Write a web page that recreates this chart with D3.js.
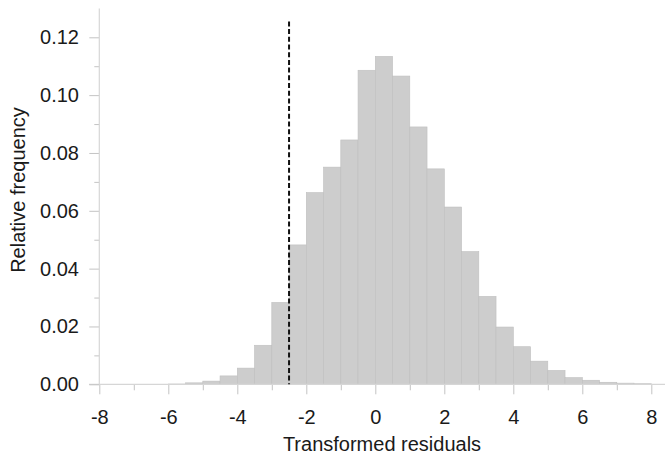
<!DOCTYPE html>
<html>
<head>
<meta charset="utf-8">
<script src="https://cdn.jsdelivr.net/npm/d3@7/dist/d3.min.js"></script>
<style>
  html, body { margin: 0; padding: 0; background: #fff; }
  svg { display: block; }
  text { font-family: "Liberation Sans", Arial, sans-serif; fill: #1a1a1a; }
</style>
</head>
<body>
<svg id="chart" width="665" height="457"></svg>
<script>
// ---- data ----
const binStarts = [-6, -5.5, -5, -4.5, -4, -3.5, -3, -2.5, -2, -1.5, -1, -0.5, 0, 0.5, 1, 1.5, 2, 2.5, 3, 3.5, 4, 4.5, 5, 5.5, 6, 6.5, 7, 7.5];
const binWidth = 0.5;
const frequencies = [0.0001, 0.0005, 0.0011, 0.0029, 0.0056, 0.0135, 0.0283, 0.0482, 0.0663, 0.0751, 0.0845, 0.1086, 0.1134, 0.1066, 0.0890, 0.0745, 0.0613, 0.0459, 0.0304, 0.0198, 0.0130, 0.0080, 0.0048, 0.0023, 0.0014, 0.0007, 0.0004, 0.0002];
const xTicks = [-8, -6, -4, -2, 0, 2, 4, 6, 8];
const xMinorTicks = [-7, -5, -3, -1, 1, 3, 5, 7];
const yTicks = [0, 0.02, 0.04, 0.06, 0.08, 0.10, 0.12];
const yMinorTicks = [0.01, 0.03, 0.05, 0.07, 0.09, 0.11];
const yMax = 0.13;
const threshold = -2.5;
const thresholdTop = 0.1255;
const xTitle = "Transformed residuals";
const yTitle = "Relative frequency";

// ---- layout ----
const svg = d3.select("#chart");
const x = d3.scaleLinear().domain([-8, 8]).range([99.3, 651.3]);
const y = d3.scaleLinear().domain([0, 0.12]).range([384.3, 37.3]);
const fontSize = 20;
const axisColor = "#d6d6d6";
const tickColor = "#c4c4c4";

// bars
const bins = binStarts.map((s, i) => ({ x0: s, x1: s + binWidth, v: frequencies[i] }));
svg.append("g").selectAll("rect").data(bins).join("rect")
  .attr("x", d => x(d.x0))
  .attr("width", d => x(d.x1) - x(d.x0))
  .attr("y", d => y(d.v))
  .attr("height", d => y(0) - y(d.v))
  .attr("fill", "#cdcdcd")
  .attr("stroke", "#bfbfbf")
  .attr("stroke-width", 0.6);

// x axis
const xg = svg.append("g").attr("transform", `translate(0,${y(0)})`);
xg.call(d3.axisBottom(x).tickValues(xTicks).tickSize(10).tickFormat(d => String(d)));
xg.select(".domain").remove();
xg.selectAll(".tick line").attr("stroke", tickColor);
xg.selectAll(".tick text").attr("font-size", fontSize).attr("y", 40).attr("dy", 0).attr("fill", "#1a1a1a");
const xmg = svg.append("g").attr("transform", `translate(0,${y(0)})`);
xmg.call(d3.axisBottom(x).tickValues(xMinorTicks).tickSize(6).tickFormat(""));
xmg.select(".domain").remove();
xmg.selectAll(".tick line").attr("stroke", tickColor);
svg.append("line")
  .attr("x1", 89).attr("x2", 665)
  .attr("y1", y(0)).attr("y2", y(0))
  .attr("stroke", axisColor).attr("stroke-width", 1.2);

// y axis
const yg = svg.append("g").attr("transform", `translate(${x(-8)},0)`);
yg.call(d3.axisLeft(y).tickValues(yTicks).tickSize(10).tickFormat(d3.format(".2f")));
yg.select(".domain").remove();
yg.selectAll(".tick line").attr("stroke", tickColor);
yg.selectAll(".tick text").attr("font-size", fontSize).attr("x", -20.3).attr("fill", "#1a1a1a");
const ymg = svg.append("g").attr("transform", `translate(${x(-8)},0)`);
ymg.call(d3.axisLeft(y).tickValues(yMinorTicks).tickSize(5).tickFormat(""));
ymg.select(".domain").remove();
ymg.selectAll(".tick line").attr("stroke", tickColor);
svg.append("line")
  .attr("x1", x(-8)).attr("x2", x(-8))
  .attr("y1", y(yMax)).attr("y2", y(0))
  .attr("stroke", axisColor).attr("stroke-width", 1.2);

// threshold dashed line
svg.append("line")
  .attr("x1", x(threshold)).attr("x2", x(threshold))
  .attr("y1", y(thresholdTop)).attr("y2", y(0))
  .attr("stroke", "#111").attr("stroke-width", 2)
  .attr("stroke-dasharray", "5,2.7");

// titles
svg.append("text")
  .attr("x", 382).attr("y", 451)
  .attr("text-anchor", "middle").attr("font-size", fontSize)
  .text(xTitle);
svg.append("text")
  .attr("transform", `translate(25,190) rotate(-90)`)
  .attr("text-anchor", "middle").attr("font-size", fontSize)
  .text(yTitle);
</script>
</body>
</html>
